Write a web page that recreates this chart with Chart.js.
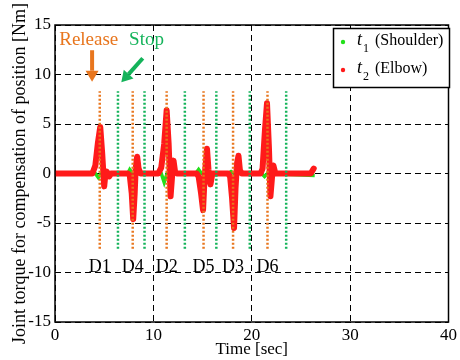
<!DOCTYPE html>
<html>
<head>
<meta charset="utf-8">
<script src="https://cdn.jsdelivr.net/npm/chart.js@4.4.1/dist/chart.umd.min.js"></script>
<style>
  body { margin: 0; background: #fff; }
</style>
</head>
<body>
<canvas id="c" width="460" height="360"></canvas>
<script>
// Elbow joint torque (t2) [Nm] vs time [sec]
const timeElbow = [0, 3.8, 4.1, 4.35, 4.6, 4.8, 4.9, 5.0, 5.1, 5.25, 5.5, 5.7,
  7.4, 7.6, 7.8, 7.95, 8.1, 8.2, 8.35, 8.5, 8.7,
  10.5, 10.8, 11.1, 11.35, 11.55, 11.75, 11.9, 12.05, 12.2, 12.4,
  14.4, 14.6, 14.85, 15.05, 15.2, 15.45, 15.6, 15.8, 16.0,
  17.6, 17.8, 18.0, 18.2, 18.35, 18.5, 18.65, 18.8, 19.0,
  20.9, 21.1, 21.35, 21.55, 21.75, 21.9, 22.05, 22.2, 22.4,
  26.0, 26.3];
const torqueElbow = [0, 0, 0.8, 3.0, 4.7, 2.0, 0.3, -1.3, -0.3, 0.2, -0.3, 0,
  0, -0.2, -2.0, -4.6, -2.0, 0.5, 1.7, 0.5, 0,
  0, 0.6, 3.0, 6.4, 3.0, -2.3, -0.3, 1.3, 0.2, 0,
  0, -0.3, -2.0, -3.7, -0.5, 2.5, 0.4, -1.1, 0,
  0, -0.3, -2.5, -5.5, -1.5, 1.0, 1.8, 0.3, 0,
  0, 0.5, 4.5, 7.1, 2.5, -2.3, -0.5, 0.8, 0,
  0, 0.5];

// Shoulder joint torque (t1) [Nm]
const timeShoulder = [0, 4.1, 4.4, 4.7, 7.4, 7.6, 7.9, 10.8, 11.1, 11.4,
  14.3, 14.6, 14.9, 17.6, 17.9, 18.2, 21.0, 21.3, 21.6, 26.4];
const torqueShoulder = [0, 0, -0.4, 0, 0, 0.4, 0, 0, -0.9, 0,
  0, 0.4, 0, 0, 0.2, 0, 0, -0.3, 0, -0.2];

// brake release / stop instants [sec]
const releaseTimes = [4.55, 7.9, 11.35, 15.1, 18.1, 21.6];
const stopTimes = [6.4, 9.1, 13.2, 16.4, 19.8, 23.5];
const dirLabels = ['D1', 'D4', 'D2', 'D5', 'D3', 'D6'];
const markerSpan = [-7.6, 8.3];

const ORANGE = '#e8761e';
const GREEN = '#14b35a';
const SERIF = "'Liberation Serif', 'Times New Roman', serif";

function zipXY(xs, ys) {
  return xs.map((x, i) => ({ x: x, y: ys[i] }));
}

// one dataset per marker group, segments separated by null gaps
function markerLines(times) {
  const pts = [];
  times.forEach(t => {
    pts.push({ x: t, y: markerSpan[0] }, { x: t, y: markerSpan[1] }, { x: t, y: null });
  });
  return pts;
}

function arrow(ctx, x1, y1, x2, y2, color) {
  const ang = Math.atan2(y2 - y1, x2 - x1);
  const head = 11, half = 6.5;
  const bx = x2 - head * Math.cos(ang), by = y2 - head * Math.sin(ang);
  ctx.save();
  ctx.strokeStyle = color;
  ctx.fillStyle = color;
  ctx.lineWidth = 4;
  ctx.beginPath();
  ctx.moveTo(x1, y1);
  ctx.lineTo(bx, by);
  ctx.stroke();
  ctx.beginPath();
  ctx.moveTo(x2, y2);
  ctx.lineTo(bx + half * Math.sin(ang), by - half * Math.cos(ang));
  ctx.lineTo(bx - half * Math.sin(ang), by + half * Math.cos(ang));
  ctx.closePath();
  ctx.fill();
  ctx.restore();
}

const overlay = {
  id: 'overlay',
  afterDatasetsDraw(chart) {
    const ctx = chart.ctx;
    const xs = chart.scales.x, ys = chart.scales.y;
    const px = v => xs.getPixelForValue(v);
    const py = v => ys.getPixelForValue(v);
    const a = chart.chartArea;

    // frame
    ctx.save();
    ctx.strokeStyle = '#000';
    ctx.lineWidth = 1.5;
    ctx.strokeRect(a.left, a.top, a.right - a.left, a.bottom - a.top);

    // direction labels under release markers
    ctx.fillStyle = '#000';
    ctx.font = '18px ' + SERIF;
    ctx.textAlign = 'center';
    ctx.textBaseline = 'alphabetic';
    releaseTimes.forEach((t, i) => ctx.fillText(dirLabels[i], px(t), py(-9.9)));

    // Release / Stop callouts
    ctx.font = '19px ' + SERIF;
    ctx.fillStyle = ORANGE;
    ctx.fillText('Release', px(3.43), py(13.0));
    ctx.fillStyle = GREEN;
    ctx.fillText('Stop', px(9.3), py(13.0));
    ctx.restore();

    arrow(ctx, px(3.77), py(12.45), px(3.77), py(9.27), ORANGE);
    arrow(ctx, px(8.92), py(11.64), px(6.74), py(9.21), GREEN);

    // legend box
    const lx = 333.5, ly = 28.5, lw = 116, lh = 59;
    ctx.save();
    ctx.fillStyle = '#fff';
    ctx.fillRect(lx, ly, lw, lh);
    ctx.strokeStyle = '#000';
    ctx.lineWidth = 1.5;
    ctx.strokeRect(lx, ly, lw, lh);
    const entries = [
      { color: '#22e01a', sub: '1', name: '(Shoulder)', y: 45 },
      { color: '#ff1a1a', sub: '2', name: '(Elbow)', y: 73 }
    ];
    entries.forEach(e => {
      ctx.fillStyle = e.color;
      ctx.beginPath();
      ctx.arc(343, e.y - 3, 2.2, 0, Math.PI * 2);
      ctx.fill();
      ctx.fillStyle = '#000';
      ctx.textAlign = 'left';
      ctx.font = 'italic 18px ' + SERIF;
      ctx.fillText('t', 357, e.y);
      ctx.font = '12px ' + SERIF;
      ctx.fillText(e.sub, 363, e.y + 7);
      ctx.font = '16px ' + SERIF;
      ctx.fillText(e.name, 375, e.y);
    });
    ctx.restore();
  }
};

Chart.defaults.font.family = SERIF;
Chart.defaults.color = '#000';

new Chart(document.getElementById('c'), {
  type: 'line',
  data: {
    datasets: [
      {
        label: 'release',
        data: markerLines(releaseTimes),
        borderColor: ORANGE,
        borderWidth: 2.5,
        borderDash: [2, 2],
        pointRadius: 0,
        spanGaps: false,
        order: 0
      },
      {
        label: 'stop',
        data: markerLines(stopTimes),
        borderColor: GREEN,
        borderWidth: 2.5,
        borderDash: [2, 2],
        pointRadius: 0,
        spanGaps: false,
        order: 0
      },
      {
        label: 't2 (Elbow)',
        data: zipXY(timeElbow, torqueElbow),
        borderColor: '#ff1a1a',
        borderWidth: 6,
        borderJoinStyle: 'round',
        borderCapStyle: 'round',
        pointRadius: 0,
        tension: 0,
        order: 1
      },
      {
        label: 't1 (Shoulder)',
        data: zipXY(timeShoulder, torqueShoulder),
        borderColor: '#22e01a',
        borderWidth: 3.5,
        pointRadius: 0,
        tension: 0,
        order: 2
      }
    ]
  },
  options: {
    responsive: false,
    animation: false,
    devicePixelRatio: 1,
    layout: { padding: { top: 25, right: 9, left: 0, bottom: 0 } },
    plugins: { legend: { display: false }, tooltip: { enabled: false } },
    scales: {
      x: {
        type: 'linear',
        min: 0, max: 40,
        ticks: { stepSize: 10, padding: 3, font: { size: 17 } },
        grid: { color: '#000', lineWidth: 1, drawTicks: false },
        border: { display: false, dash: [6, 4] },
        title: { display: true, text: 'Time [sec]', font: { size: 17 }, padding: { top: 3, bottom: 0 } },
        afterFit: s => { s.height = 38; }
      },
      y: {
        min: -15, max: 15,
        ticks: { stepSize: 5, padding: 4, font: { size: 17 } },
        grid: { color: '#000', lineWidth: 1, drawTicks: false },
        border: { display: false, dash: [6, 4] },
        title: { display: true, text: 'Joint torque for compensation of position [Nm]', font: { size: 18 }, padding: { top: 9, bottom: 0 } },
        afterFit: s => { s.width = 55; }
      }
    }
  },
  plugins: [overlay]
});
</script>
</body>
</html>
